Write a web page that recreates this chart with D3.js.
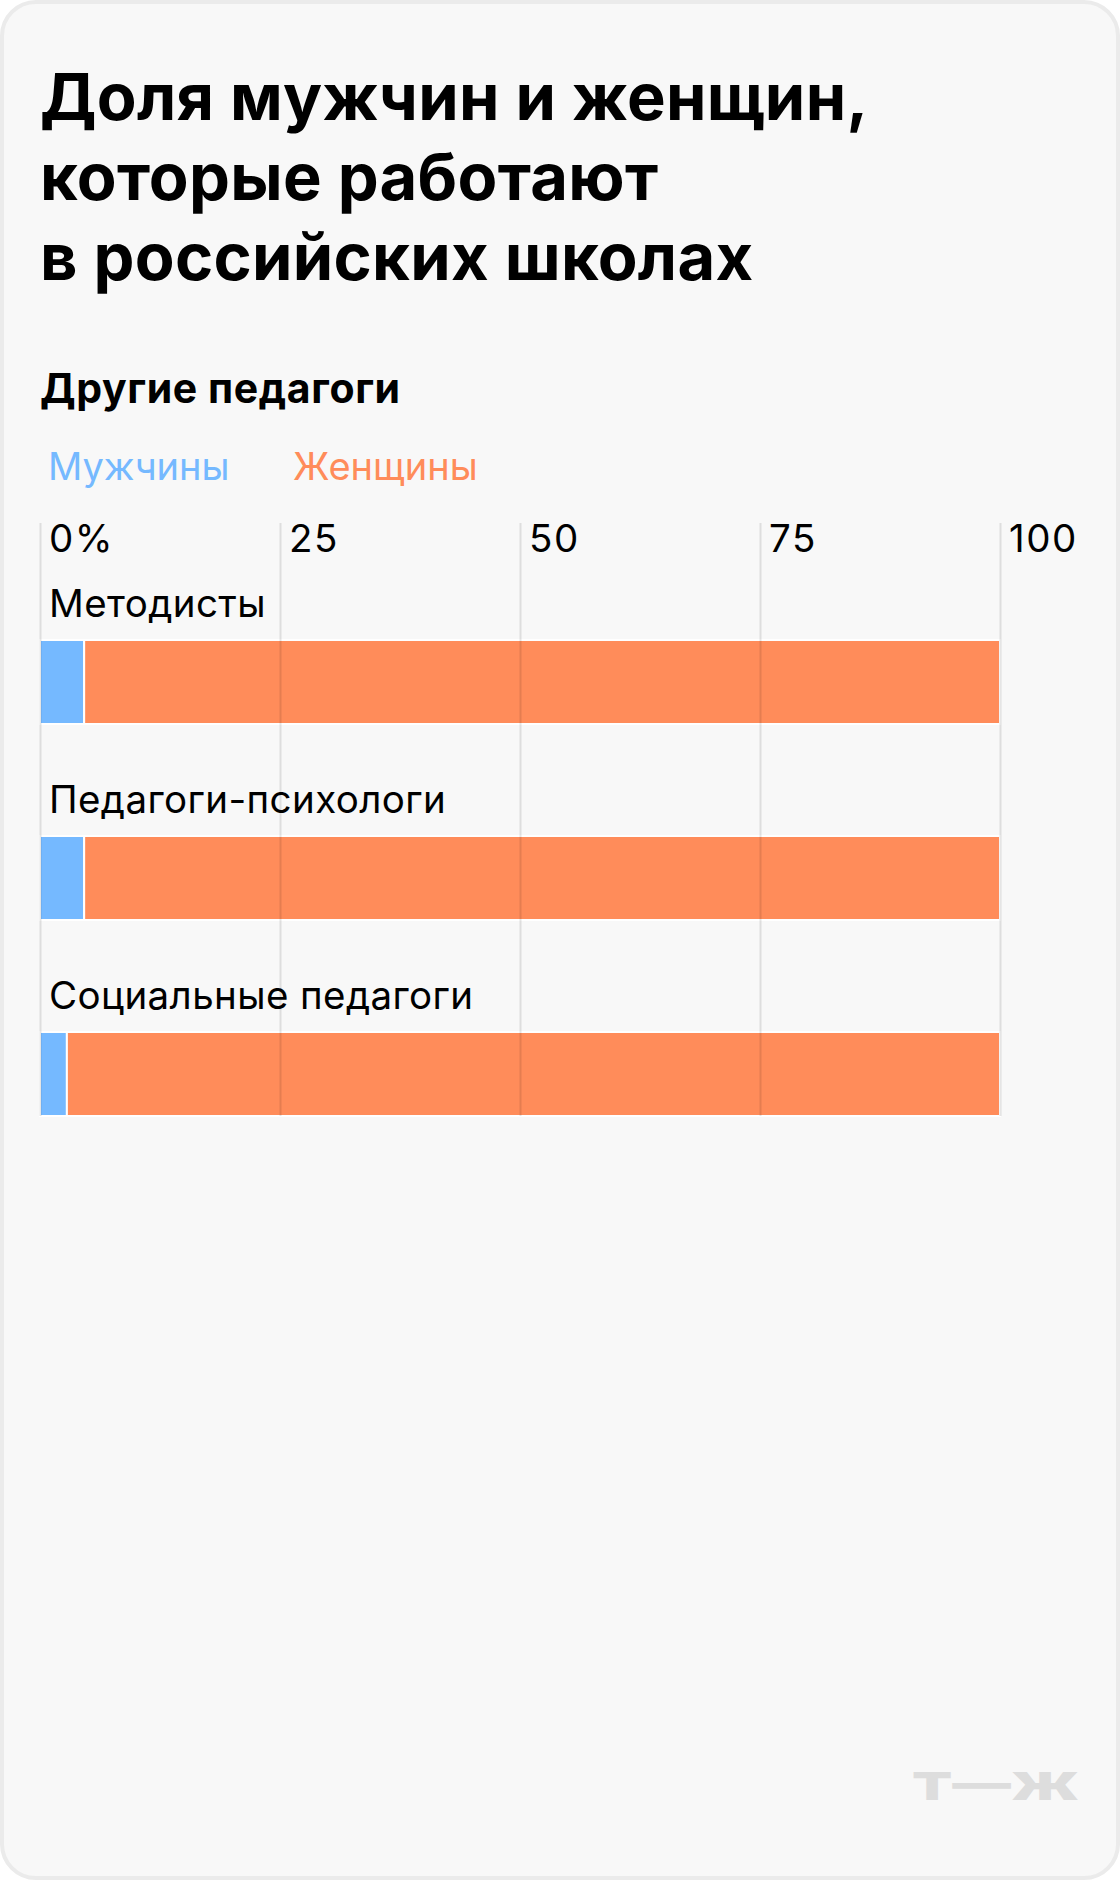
<!DOCTYPE html>
<html>
<head>
<meta charset="utf-8">
<script src="https://cdn.jsdelivr.net/npm/d3@7"></script>
<style>
  html, body { margin: 0; padding: 0; background: #ffffff; }
  svg { display: block; }
  text { font-family: Inter, "Noto Sans", sans-serif; }
</style>
</head>
<body>
<svg id="chart" width="1120" height="1880"></svg>
<script>
// ---- data ----
const titleLines = ["Доля мужчин и женщин,", "которые работают", "в российских школах"];
const subtitle = "Другие педагоги";
const seriesNames = ["Мужчины", "Женщины"];
const categories = ["Методисты", "Педагоги-психологи", "Социальные педагоги"];
const men = [4.6, 4.6, 2.8];
const women = [95.4, 95.4, 97.2];
const tickValues = [0, 25, 50, 75, 100];
const tickLabels = ["0%", "25", "50", "75", "100"];
const colors = ["#75b9ff", "#ff8c5a"];

const svg = d3.select("#chart");

// card
svg.append("rect")
  .attr("x", 2).attr("y", 2).attr("width", 1116).attr("height", 1876)
  .attr("rx", 34).attr("ry", 34)
  .attr("fill", "#f8f8f8").attr("stroke", "#ebebeb").attr("stroke-width", 4);

// title
svg.append("g").selectAll("text").data(titleLines).join("text")
  .attr("x", 40).attr("y", (d, i) => 120 + i * 80)
  .attr("font-size", 65).attr("font-weight", 700)
  .attr("letter-spacing", 0.3)
  .attr("fill", "#000").text(d => d);

svg.append("text").attr("x", 40).attr("y", 403)
  .attr("font-size", 41).attr("font-weight", 700).attr("fill", "#000")
  .attr("letter-spacing", 0.6)
  .text(subtitle);

// legend
const legendX = [48, 293];
svg.append("g").selectAll("text").data(seriesNames).join("text")
  .attr("x", (d, i) => legendX[i]).attr("y", 480)
  .attr("font-size", 38).attr("fill", (d, i) => colors[i]).text(d => d);

// scales
const x = d3.scaleLinear().domain([0, 100]).range([40, 1000]);
const y = d3.scaleBand().domain(categories).range([545, 545 + 196 * categories.length]).padding(0);

const stacked = categories.map((c, i) => ({
  cat: c,
  segs: [
    { key: seriesNames[0], x0: 0, x1: men[i], color: colors[0] },
    { key: seriesNames[1], x0: men[i], x1: men[i] + women[i], color: colors[1] }
  ]
}));

// category labels
svg.append("g").selectAll("text").data(categories).join("text")
  .attr("x", 49).attr("y", d => y(d) + 71.5)
  .attr("font-size", 38.5).attr("letter-spacing", 0.4).attr("fill", "#000").text(d => d);

// bars
const rows = svg.append("g").selectAll("g").data(stacked).join("g");
rows.selectAll("rect").data(d => d.segs.map(s => ({ ...s, cat: d.cat }))).join("rect")
  .attr("x", d => x(d.x0))
  .attr("width", d => x(d.x1) - x(d.x0))
  .attr("y", d => y(d.cat) + 95)
  .attr("height", 84)
  .attr("fill", d => d.color)
  .attr("stroke", "#ffffff").attr("stroke-width", 2);

// grid + tick labels via axis
const axis = d3.axisTop(x).tickValues(tickValues)
  .tickFormat((d, i) => tickLabels[i])
  .tickSize(-(1116 - 523)).tickPadding(0);
const ag = svg.append("g").attr("transform", "translate(0,523)").call(axis);
ag.select(".domain").remove();
ag.selectAll(".tick line").attr("stroke", "rgba(0,0,0,0.1)").attr("stroke-width", 2);
ag.selectAll(".tick text")
  .attr("y", 29).attr("x", 8.5)
  .attr("text-anchor", "start")
  .attr("font-size", 38.5).attr("letter-spacing", 1.5).attr("fill", "#000")
  .attr("font-family", "Inter, 'Noto Sans', sans-serif");

// logo
svg.append("text").attr("x", 912).attr("y", 1800)
  .attr("font-size", 39).attr("font-weight", 900).attr("fill", "#dddddd")
  .attr("textLength", 167).attr("lengthAdjust", "spacingAndGlyphs")
  .text("Т—Ж");
</script>
</body>
</html>
